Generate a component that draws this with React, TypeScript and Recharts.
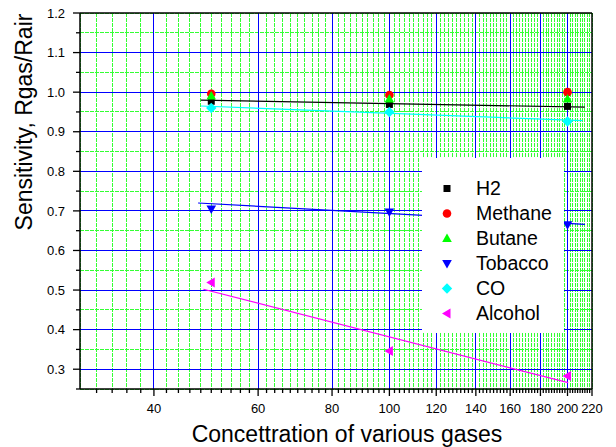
import React from 'react';
import { ComposedChart, XAxis, YAxis, CartesianGrid, ReferenceLine, Scatter, Legend } from 'recharts';

const FONT = '"Liberation Sans", Arial, Helvetica, sans-serif';

// concentrations
const concentrations = [50, 100, 200];

// sensitivity values per gas
const h2Values = [0.977, 0.969, 0.964];
const methaneValues = [0.996, 0.993, 1.0];
const butaneValues = [0.99, 0.983, 0.983];
const tobaccoValues = [0.705, 0.697, 0.665];
const coValues = [0.96, 0.95, 0.926];
const alcoholValues = [0.519, 0.346, 0.283];

// fitted line endpoints [x, y]
const fitH2 = [[48, 0.98], [214, 0.962]];
const fitTobacco = [[47.5, 0.72], [214, 0.666]];
const fitCO = [[48, 0.965], [212, 0.928]];
const fitAlcohol = [[48.5, 0.502], [200.5, 0.266]];

// axis ticks
const xDomain = [30, 220];
const xMajorTicks = [40, 60, 80, 100, 120, 140, 160, 180, 200, 220];
const xMinorTicks = Array.from({ length: 94 }, (_, i) => 32 + 2 * i).filter((v) => v % 20 !== 0);
const xAllTicks = [...xMinorTicks, ...xMajorTicks].sort((a, b) => a - b);

const yDomain = [0.25, 1.2];
const yAllTicks = [0.25, 0.3, 0.35, 0.4, 0.45, 0.5, 0.55, 0.6, 0.65, 0.7, 0.75, 0.8, 0.85, 0.9, 0.95, 1.0, 1.05, 1.1, 1.15, 1.2];
const yMajorTicks = [0.3, 0.4, 0.5, 0.6, 0.7, 0.8, 0.9, 1.0, 1.1, 1.2];

const toPoints = (vals: number[]) => concentrations.map((x, i) => ({ x, y: vals[i] }));

const isYMajor = (v: number) => yMajorTicks.some((m) => Math.abs(m - v) < 1e-6);

const XTick = (props: any) => {
  const { x, y, payload } = props;
  const v = payload.value;
  const major = xMajorTicks.includes(v);
  return (
    <g>
      <line x1={x} x2={x} y1={y} y2={y + (major ? 7 : 4)} stroke="#000" strokeWidth={1.3} />
      {major && (
        <text x={x} y={y + 24} textAnchor="middle" fontSize={13} fontFamily={FONT} fill="#000">
          {v}
        </text>
      )}
    </g>
  );
};

const YTick = (props: any) => {
  const { x, y, payload } = props;
  const v = payload.value;
  const major = isYMajor(v);
  return (
    <g>
      <line x1={x - (major ? 7 : 4)} x2={x} y1={y} y2={y} stroke="#000" strokeWidth={1.3} />
      {major && (
        <text x={x - 15} y={y + 4.7} textAnchor="end" fontSize={13} fontFamily={FONT} fill="#000">
          {v.toFixed(1)}
        </text>
      )}
    </g>
  );
};

const SquareShape = (p: any) => <rect x={p.cx - 3.5} y={p.cy - 3.5} width={7} height={7} fill="#000000" />;
const CircleShape = (p: any) => <circle cx={p.cx} cy={p.cy} r={4.3} fill="#ff0000" />;
const UpTriShape = (p: any) => (
  <polygon points={`${p.cx},${p.cy - 5} ${p.cx - 4.8},${p.cy + 3.5} ${p.cx + 4.8},${p.cy + 3.5}`} fill="#00ff00" />
);
const DownTriShape = (p: any) => (
  <polygon points={`${p.cx},${p.cy + 5} ${p.cx - 4.8},${p.cy - 3.5} ${p.cx + 4.8},${p.cy - 3.5}`} fill="#0000ff" />
);
const DiamondShape = (p: any) => (
  <polygon points={`${p.cx},${p.cy - 5.2} ${p.cx + 5.2},${p.cy} ${p.cx},${p.cy + 5.2} ${p.cx - 5.2},${p.cy}`} fill="#00ffff" />
);
const LeftTriShape = (p: any) => (
  <polygon points={`${p.cx - 5},${p.cy} ${p.cx + 3.5},${p.cy - 5} ${p.cx + 3.5},${p.cy + 5}`} fill="#ff00ff" />
);

const series = [
  { name: 'H2', values: h2Values, shape: SquareShape },
  { name: 'Methane', values: methaneValues, shape: CircleShape },
  { name: 'Butane', values: butaneValues, shape: UpTriShape },
  { name: 'Tobacco', values: tobaccoValues, shape: DownTriShape },
  { name: 'CO', values: coValues, shape: DiamondShape },
  { name: 'Alcohol', values: alcoholValues, shape: LeftTriShape },
];

const fits = [
  { pts: fitH2, color: '#000000' },
  { pts: fitCO, color: '#00ffff' },
  { pts: fitTobacco, color: '#0000ff' },
  { pts: fitAlcohol, color: '#ff00ff' },
];

const LegendContent = () => (
  <div
    style={{
      background: '#ffffff',
      width: 142,
      height: 175,
      boxSizing: 'border-box',
      paddingTop: 18,
      fontFamily: FONT,
      fontSize: 19.5,
      color: '#000',
    }}
  >
    {series.map((s) => (
      <div key={s.name} style={{ height: 25, display: 'flex', alignItems: 'center' }}>
        <svg width={54} height={25} style={{ display: 'block' }}>
          {s.shape({ cx: 25, cy: 12.5 })}
        </svg>
        <span style={{ lineHeight: '25px' }}>{s.name}</span>
      </div>
    ))}
  </div>
);

export default function App() {
  return (
    <div style={{ position: 'absolute', left: 0, top: 0, width: 616, height: 447, background: '#fff' }}>
      <ComposedChart width={616} height={447} margin={{ top: 13, right: 24, bottom: 0, left: 0 }}>
        <CartesianGrid stroke="#33ff33" strokeDasharray="4 1" strokeWidth={1} shapeRendering="crispEdges" />
        <XAxis
          dataKey="x"
          type="number"
          scale="log"
          domain={xDomain}
          ticks={xAllTicks}
          interval={0}
          allowDataOverflow
          height={58}
          tickSize={0}
          tickMargin={0}
          tickLine={false}
          tick={<XTick />}
          axisLine={{ stroke: '#000', strokeWidth: 1.5 }}
          label={{
            content: (p: any) => {
              const vb = p.viewBox;
              return (
                <text x={vb.x + vb.width / 2 + 11} y={vb.y + 53} textAnchor="middle" fontSize={23} fontFamily={FONT} fill="#000">
                  Concettration of various gases
                </text>
              );
            },
          }}
        />
        <YAxis
          dataKey="y"
          type="number"
          domain={yDomain}
          ticks={yAllTicks}
          interval={0}
          allowDataOverflow
          width={80}
          tickSize={0}
          tickMargin={0}
          tickLine={false}
          tick={<YTick />}
          axisLine={{ stroke: '#000', strokeWidth: 1.5 }}
          label={{
            content: () => (
              <text
                x={0}
                y={0}
                transform="translate(32, 122) rotate(-90)"
                textAnchor="middle"
                fontSize={23}
                fontFamily={FONT}
                fill="#000"
              >
                Sensitivity, Rgas/Rair
              </text>
            ),
          }}
        />
        {xMajorTicks
          .filter((v) => v < xDomain[1])
          .map((v) => (
            <ReferenceLine key={'vx' + v} x={v} stroke="#0000ff" strokeWidth={1} shapeRendering="crispEdges" />
          ))}
        {yMajorTicks
          .filter((v) => v < yDomain[1])
          .map((v) => (
            <ReferenceLine key={'hy' + v} y={v} stroke="#0000ff" strokeWidth={1} shapeRendering="crispEdges" />
          ))}
        <ReferenceLine y={yDomain[1]} stroke="#000" strokeWidth={1.5} />
        <ReferenceLine x={xDomain[1]} stroke="#000" strokeWidth={1.5} />
        {fits.map((f, i) => (
          <ReferenceLine
            key={'fit' + i}
            segment={[
              { x: f.pts[0][0], y: f.pts[0][1] },
              { x: f.pts[1][0], y: f.pts[1][1] },
            ]}
            stroke={f.color}
            strokeWidth={1.2}
          />
        ))}
        {series.map((s) => (
          <Scatter
            key={s.name}
            name={s.name}
            data={toPoints(s.values)}
            shape={s.shape}
            isAnimationActive={false}
          />
        ))}
        <Legend
          layout="horizontal"
          verticalAlign="middle"
          align="center"
          content={<LegendContent />}
          wrapperStyle={{ left: 422, top: 158, width: 142, height: 175 }}
        />
      </ComposedChart>
    </div>
  );
}
